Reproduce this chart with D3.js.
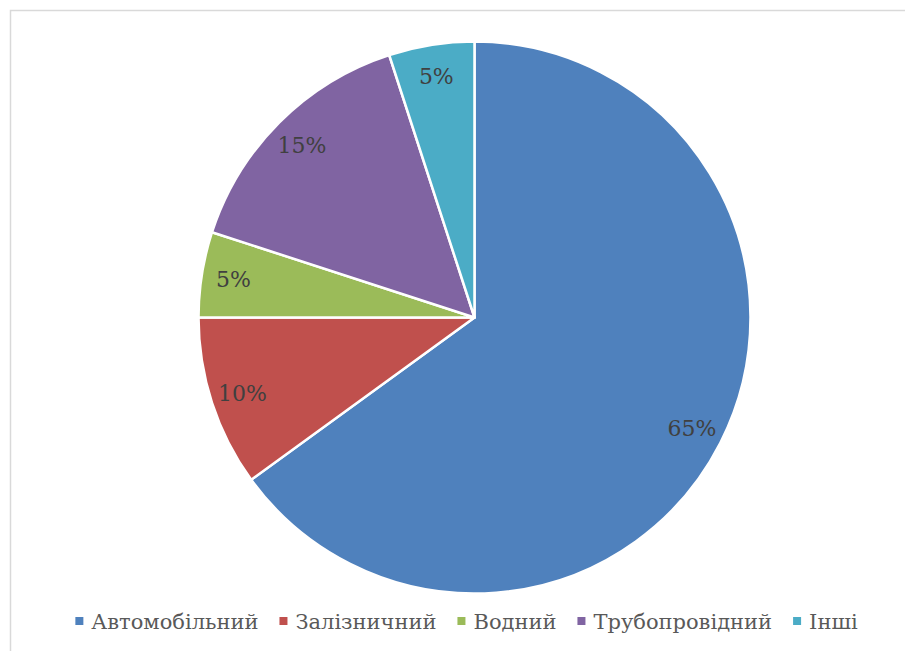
<!DOCTYPE html>
<html><head><meta charset="utf-8">
<script src="https://cdn.jsdelivr.net/npm/d3@7"></script>
<style>body{margin:0;background:#fff}svg{display:block}</style>
</head><body>
<svg id="chart" width="905" height="651"></svg>
<script>
const categories = ["Автомобільний","Залізничний","Водний","Трубопровідний","Інші"];
const values = [65,10,5,15,5];
const labels = ["65%","10%","5%","15%","5%"];
const colors = ["#4F81BD","#C0504D","#9BBB59","#8064A2","#4BACC6"];

const svg = d3.select("#chart");
svg.append("rect").attr("x",10.5).attr("y",10.5).attr("width",1000).attr("height",1000)
  .attr("fill","#fff").attr("stroke","#d9d9d9").attr("stroke-width",1.5);

const cx = 474.5, cy = 317.5, r = 276;
const data = categories.map((c,i)=>({c, v: values[i], l: labels[i], col: colors[i]}));
const pie = d3.pie().value(d=>d.v).sort(null);
const arcs = pie(data);
const arc = d3.arc().innerRadius(0).outerRadius(r);
const labelArc = d3.arc().innerRadius(244).outerRadius(244);
const g = svg.append("g").attr("transform",`translate(${cx},${cy})`);
g.selectAll("path").data(arcs).join("path")
  .attr("d",arc).attr("fill",d=>d.data.col)
  .attr("stroke","#fff").attr("stroke-width",2.5).attr("stroke-linejoin","round");
g.selectAll("text").data(arcs).join("text")
  .attr("transform",d=>`translate(${labelArc.centroid(d)})`)
  .attr("text-anchor","middle").attr("dy","0.36em")
  .attr("font-family","'DejaVu Serif', serif").attr("font-size",22)
  .attr("fill","#404040").text(d=>d.data.l);

// legend
const lg = svg.append("g");
const items = lg.selectAll("g").data(data).join("g");
items.append("rect").attr("width",8).attr("height",8).attr("y",-12).attr("fill",d=>d.col);
items.append("text").attr("x",16).attr("y",0)
  .attr("font-family","'DejaVu Serif', serif").attr("font-size",21)
  .attr("fill","#595959").text(d=>d.c);
let x = 0;
items.each(function(){
  const t = d3.select(this).select("text").node().getComputedTextLength();
  d3.select(this).attr("transform",`translate(${x},0)`);
  x += 16 + t + 21;
});
const total = x - 21;
lg.attr("transform",`translate(${466.5 - total/2},629)`);
</script>
</body></html>
